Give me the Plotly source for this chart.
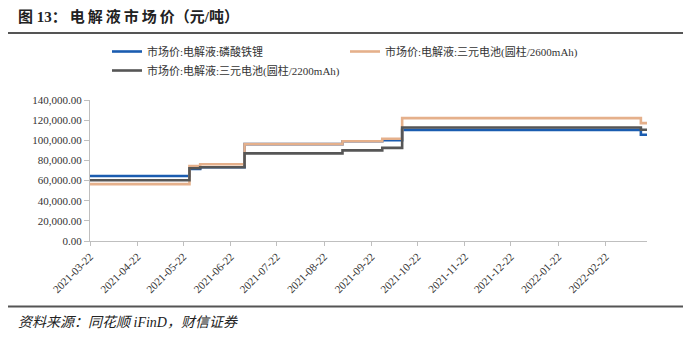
import plotly.graph_objects as go

# Electrolyte market prices (yuan/ton); each list marks the dates where the price changes
lfp_dates = ["2021-03-22", "2021-05-26", "2021-06-02", "2021-07-01", "2021-09-03",
             "2021-09-29", "2021-10-12", "2022-03-17", "2022-03-21"]
lfp_values = [64500, 71500, 73200, 96200, 99000, 100000, 110300, 105500, 105500]

ncm2600_dates = ["2021-03-22", "2021-05-26", "2021-06-02", "2021-07-01", "2021-09-03",
                 "2021-09-29", "2021-10-12", "2022-03-17", "2022-03-21"]
ncm2600_values = [56500, 74500, 76200, 96200, 99000, 101500, 122000, 117000, 117000]

ncm2200_dates = ["2021-03-22", "2021-05-26", "2021-06-02", "2021-07-01", "2021-09-03",
                 "2021-09-29", "2021-10-12", "2022-03-17", "2022-03-21"]
ncm2200_values = [60300, 72200, 73200, 87000, 90000, 92500, 112700, 110500, 110500]

series_names = ["市场价:电解液:磷酸铁锂",
                "市场价:电解液:三元电池(圆柱/2600mAh)",
                "市场价:电解液:三元电池(圆柱/2200mAh)"]
series_colors = ["#1a5cb0", "#e5b08b", "#565656"]

tick_dates = ["2021-03-22", "2021-04-22", "2021-05-22", "2021-06-22", "2021-07-22",
              "2021-08-22", "2021-09-22", "2021-10-22", "2021-11-22", "2021-12-22",
              "2022-01-22", "2022-02-22"]
y_ticks = [0, 20000, 40000, 60000, 80000, 100000, 120000, 140000]

W, H = 691, 337
L, R, T, B = 90, 647, 100, 241  # plot area in pixels

def px(x):
    return (x - L) / (R - L)

def py(y):
    return (B - y) / (B - T)

SERIF = "Liberation Serif, Noto Sans CJK SC, serif"

fig = go.Figure()
for d, v, n, c in zip([lfp_dates, ncm2600_dates, ncm2200_dates],
                      [lfp_values, ncm2600_values, ncm2200_values],
                      series_names, series_colors):
    fig.add_trace(go.Scatter(x=d, y=v, name=n, mode="lines",
                             line=dict(color=c, width=2.6, shape="hv")))

fig.update_layout(
    width=W, height=H,
    margin=dict(l=L, r=W - R, t=T, b=H - B),
    paper_bgcolor="white", plot_bgcolor="white",
    font=dict(family=SERIF, size=11, color="#333333"),
    showlegend=True,
    legend=dict(orientation="h", x=px(107), y=py(37), xanchor="left", yanchor="top",
                entrywidth=193, entrywidthmode="pixels",
                font=dict(family=SERIF, size=11, color="#333333"),
                bgcolor="rgba(0,0,0,0)", tracegroupgap=0),
    xaxis=dict(type="date", range=["2021-03-22", "2022-03-21"],
               tickvals=tick_dates, ticktext=tick_dates, tickangle=-45,
               showgrid=False, zeroline=False, showline=True, linecolor="#bfbfbf",
               linewidth=1, ticks="outside", ticklen=4, tickcolor="#bfbfbf",
               tickfont=dict(family=SERIF, size=11, color="#333333")),
    yaxis=dict(range=[0, 140000], tickvals=y_ticks, tickformat=",.2f",
               showgrid=False, zeroline=False, showline=True, linecolor="#bfbfbf",
               linewidth=1, ticks="outside", ticklen=5, tickcolor="#bfbfbf",
               tickfont=dict(family=SERIF, size=11, color="#333333")),
)

# header and footer rules
fig.add_shape(type="line", xref="paper", yref="paper", x0=px(8), x1=px(683),
              y0=py(33), y1=py(33), line=dict(color="#555555", width=2))
fig.add_shape(type="line", xref="paper", yref="paper", x0=px(8), x1=px(683),
              y0=py(306.5), y1=py(306.5), line=dict(color="#555555", width=2))

title_text = "\u2009".join("电解液市场价") + "（元/吨）"
fig.add_annotation(xref="paper", yref="paper", x=px(16), y=py(17),
                   xanchor="left", yanchor="middle", showarrow=False,
                   text="<b>图 13：\u2009" + title_text + "</b>",
                   font=dict(family=SERIF, size=15, color="#222222"))
fig.add_annotation(xref="paper", yref="paper", x=px(16), y=py(322),
                   xanchor="left", yanchor="middle", showarrow=False,
                   text="<i>资料来源：同花顺 iFinD，财信证券</i>",
                   font=dict(family=SERIF, size=14, color="#222222"))

fig.write_html("out.html")
